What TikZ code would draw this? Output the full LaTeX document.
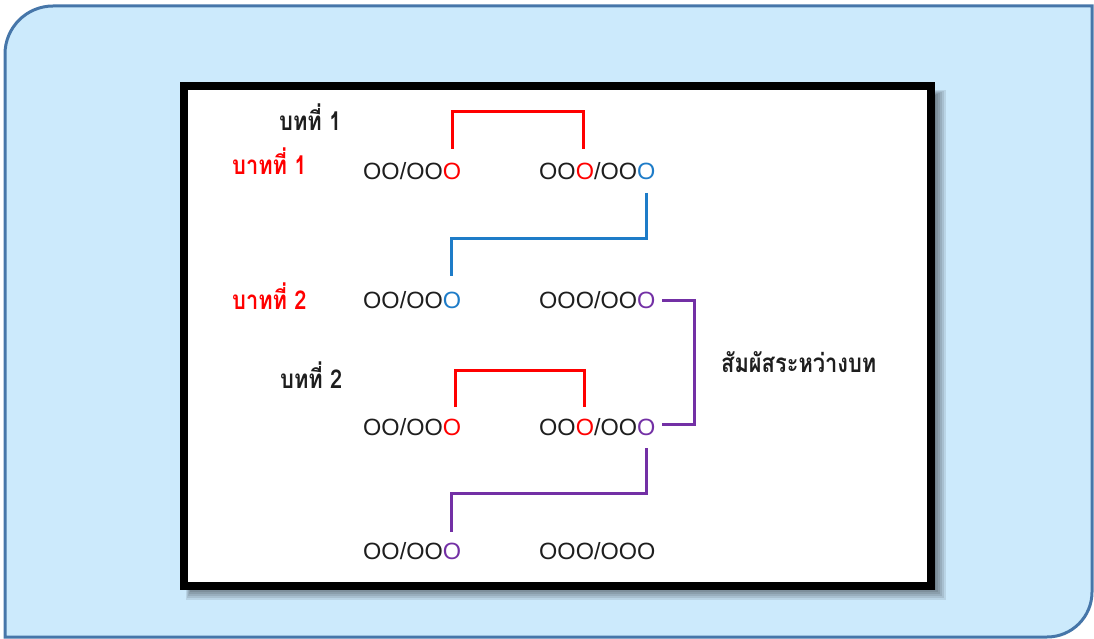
\documentclass[tikz,border=0pt]{standalone}
\usepackage{fontspec}
\setmainfont{Liberation Sans}
\newfontfamily\thaifont[Script=Thai,FakeStretch=0.84]{Loma}
\definecolor{bgblue}{HTML}{CCEAFC}
\definecolor{edgeblue}{HTML}{4676A9}
\definecolor{lred}{HTML}{FF0000}
\definecolor{lblue}{HTML}{1E7CC8}
\definecolor{lpurple}{HTML}{7330A5}
\definecolor{txt}{HTML}{1E1E1E}
\begin{document}
\begin{tikzpicture}[x=1pt,y=-1pt,
  code/.style={anchor=base west, inner sep=0pt, font=\fontsize{23.5}{26}\selectfont, text=txt},
  thai/.style={anchor=base west, inner sep=0pt, font=\thaifont\bfseries\fontsize{26}{30}\selectfont, text=txt},
  thaired/.style={thai, text=lred},
  link/.style={line width=3pt, line cap=butt, line join=miter},
]
\useasboundingbox (0,0) rectangle (1094,639);
% outer panel
\draw[fill=bgblue, draw=edgeblue, line width=3pt]
  (5,637) -- (5,54) .. controls (5,27.5) and (26.5,6) .. (53,6)
  -- (1092,6) -- (1092,592) .. controls (1092,616.9) and (1071.9,637) .. (1047,637) -- cycle;
% shadow of inner box
\foreach \k in {0,...,5}
  \fill[black, opacity=0.09] (186+\k,90+\k) rectangle (946-2*\k,600-2*\k);
% inner box
\draw[fill=white, draw=black, line width=8pt] (184,86) rectangle (931,586);

% texts
\node[thai] (bt1) at (279,131) {บทที่ 1};
\node[thaired] (bat1) at (232,175) {บาทที่ 1};
\node[code] (a1) at (363,180) {OO/OO\textcolor{lred}{O}};
\node[code] (b1) at (539,180) {OO\textcolor{lred}{O}/OO\textcolor{lblue}{O}};
\node[thaired] (bat2) at (232,309) {บาทที่ 2};
\node[code] (a2) at (363,308) {OO/OO\textcolor{lblue}{O}};
\node[code] (b2) at (539,308) {OOO/OO\textcolor{lpurple}{O}};
\node[thai] (bt2) at (280,388) {บทที่ 2};
\node[code] (a3) at (363,435) {OO/OO\textcolor{lred}{O}};
\node[code] (b3) at (539,435) {OO\textcolor{lred}{O}/OO\textcolor{lpurple}{O}};
\node[code] (a4) at (363,559) {OO/OO\textcolor{lpurple}{O}};
\node[code] (b4) at (539,559) {OOO/OOO};
\node[thai] (cross) at (721,372) {สัมผัสระหว่างบท};

% connector end points
\coordinate (r1s) at (452,149);
\coordinate (r1e) at (583,149);
\coordinate (b1s) at (646,193);
\coordinate (b1e) at (451,276);
\coordinate (p1s) at (662,300);
\coordinate (p1e) at (662,424);
\coordinate (r2s) at (455,407);
\coordinate (r2e) at (584,407);
\coordinate (p2s) at (646,448);
\coordinate (p2e) at (451,532);

\draw[link, lred] (r1s) -- (452,112) -- (583,112) -- (r1e);
\draw[link, lblue] (b1s) -- (646,238) -- (451,238) -- (b1e);
\draw[link, lpurple] (p1s) -- (694,300) -- (694,424) -- (p1e);
\draw[link, lred] (r2s) -- (455,370) -- (584,370) -- (r2e);
\draw[link, lpurple] (p2s) -- (646,493) -- (451,493) -- (p2e);
\end{tikzpicture}
\end{document}
